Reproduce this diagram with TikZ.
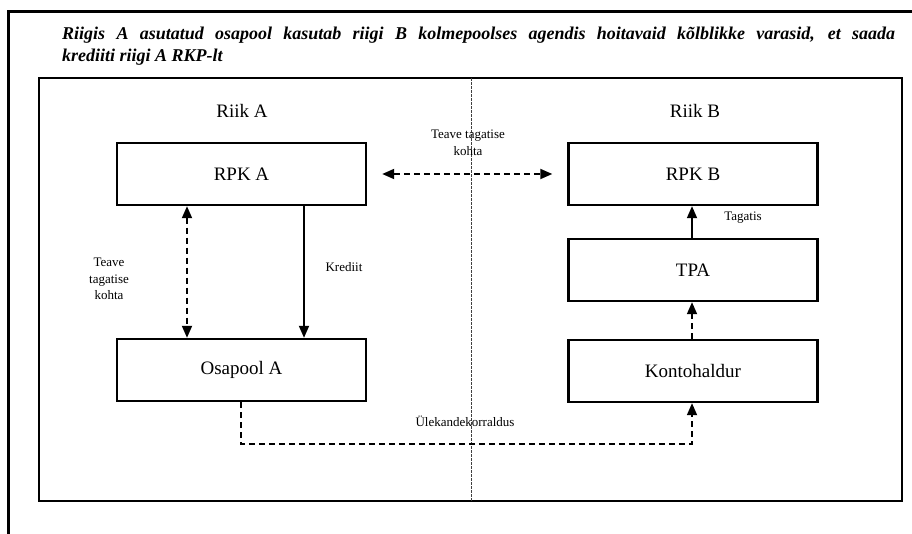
\documentclass[tikz,border=0pt]{standalone}
\usepackage{fontspec}
\setmainfont{Liberation Serif}
\usetikzlibrary{arrows.meta}
\tikzset{
  box/.style={draw, line width=2.4pt, minimum width=249pt, minimum height=62pt, inner sep=0pt, font=\fontsize{19}{22}\selectfont},
  conn/.style={line width=1.8pt, -{Triangle[length=12pt,width=10pt]}},
  biconn/.style={line width=1.8pt, {Triangle[length=12pt,width=10pt]}-{Triangle[length=12pt,width=10pt]}},
  dsh/.style={dash pattern=on 6pt off 4pt},
  small/.style={font=\fontsize{13}{16.5}\selectfont, align=center, inner sep=0pt},
  big/.style={font=\fontsize{19}{22}\selectfont, inner sep=0pt},
}
\begin{document}
\begin{tikzpicture}[x=1pt,y=-1pt]
\useasboundingbox (0,0) rectangle (912,534);
% outer frame
\draw[line width=3pt] (912,12) -- (8,12) -- (8,534);
% title
\node[anchor=base west, inner sep=0pt, font=\fontsize{18}{22}\selectfont\bfseries\itshape] (t1) at (62,40)
  {\makebox[833pt][s]{Riigis A asutatud osapool kasutab riigi B kolmepoolses agendis hoitavaid kõlblikke varasid, et saada}};
\node[anchor=base west, inner sep=0pt, font=\fontsize{18}{22}\selectfont\bfseries\itshape] (t2) at (62,62)
  {krediiti riigi A RKP-lt};
% inner frame
\draw[line width=2.6pt] (39,78) rectangle (902,501);
% divider
\coordinate (dtop) at (471,78);
\coordinate (dbot) at (471,501);
\draw[line width=0.8pt, black!75, dash pattern=on 3pt off 1pt] (dtop) -- (dbot);
% country labels
\node[big] (riika) at (242,111) {Riik A};
\node[big] (riikb) at (695,111) {Riik B};
% boxes
\node[box] (rpka) at (241.5,174) {RPK A};
\node[box] (rpkb) at (693,174) {RPK B};
\node[box] (tpa) at (693,270) {TPA};
\node[box] (osa) at (241.5,370) {Osapool A};
\node[box] (konto) at (693,371) {Kontohaldur};
% connectors
\draw[biconn, dsh, shorten <=15pt, shorten >=15pt] (rpka.east) -- (rpkb.west);
\draw[biconn, dsh] ([xshift=-54.5pt]rpka.south) -- ([xshift=-54.5pt]osa.north);
\draw[conn] ([xshift=62.5pt]rpka.south) -- ([xshift=62.5pt]osa.north);
\draw[conn] ([xshift=-1pt]tpa.north) -- ([xshift=-1pt]rpkb.south);
\draw[conn, dsh] ([xshift=-1pt]konto.north) -- ([xshift=-1pt]tpa.south);
\coordinate (c1) at (241,444);
\coordinate (c2) at (692,444);
\draw[conn, dsh] ([xshift=-0.5pt]osa.south) -- (c1) -- (c2) -- ([xshift=-1pt]konto.south);
% labels
\node[small] (lbltop) at (468,143) {Teave tagatise\\kohta};
\node[small] (lblleft) at (109,279) {Teave\\tagatise\\kohta};
\node[small] (lblkred) at (344,267) {Krediit};
\node[small] (lbltag) at (743,218) {Tagatis};
\node[small] (lblul) at (465,421) {Ülekandekorraldus};
\end{tikzpicture}
\end{document}
